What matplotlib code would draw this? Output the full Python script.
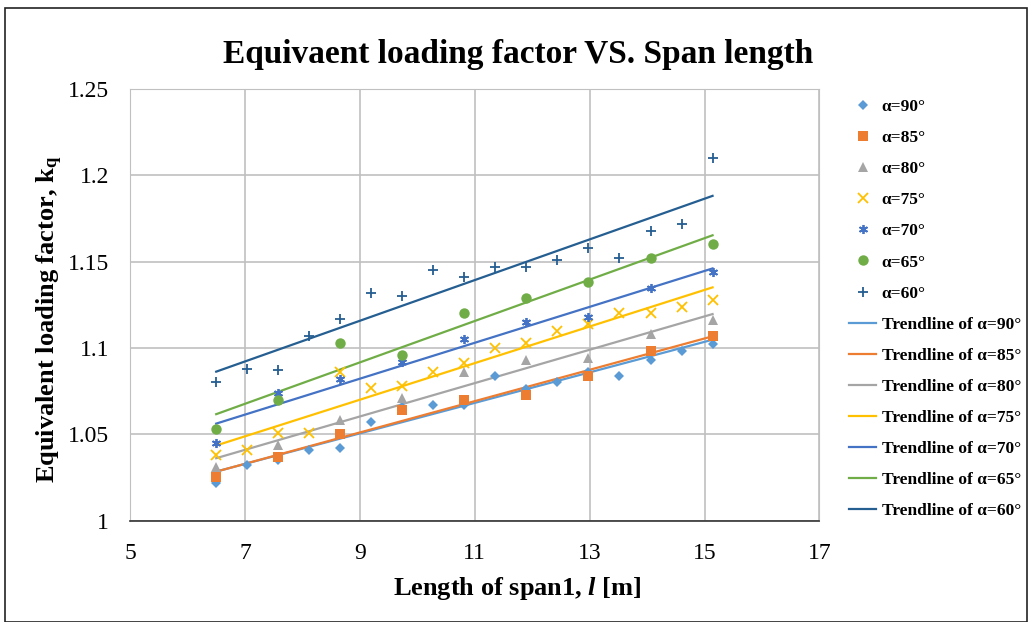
import numpy as np
import matplotlib.pyplot as plt
from matplotlib.patches import Rectangle

plt.rcParams['font.family'] = ['Liberation Serif', 'DejaVu Serif']
plt.rcParams['mathtext.fontset'] = 'custom'
plt.rcParams['mathtext.rm'] = 'Liberation Serif:bold'
plt.rcParams['mathtext.bf'] = 'Liberation Serif:bold'
plt.rcParams['mathtext.it'] = 'Liberation Serif:italic:bold'

# span lengths (m)
x_all = [6.5, 7.04, 7.58, 8.12, 8.66, 9.2, 9.74, 10.28, 10.82, 11.36,
         11.9, 12.44, 12.98, 13.52, 14.06, 14.6, 15.14]
x_half = [6.5, 7.58, 8.66, 9.74, 10.82, 11.9, 12.98, 14.06, 15.14]

k90 = [1.022, 1.032, 1.035, 1.041, 1.042, 1.057, 1.066, 1.067, 1.067, 1.084,
       1.076, 1.080, 1.086, 1.084, 1.093, 1.098, 1.102]
k85 = [1.025, 1.037, 1.050, 1.064, 1.070, 1.073, 1.084, 1.098, 1.107]
k80 = [1.031, 1.044, 1.058, 1.071, 1.086, 1.093, 1.094, 1.108, 1.116]
k75 = [1.038, 1.041, 1.051, 1.051, 1.086, 1.077, 1.078, 1.086, 1.091, 1.100,
       1.103, 1.110, 1.114, 1.120, 1.120, 1.124, 1.128]
k70 = [1.045, 1.074, 1.082, 1.092, 1.105, 1.115, 1.118, 1.135, 1.144]
k65 = [1.053, 1.070, 1.103, 1.096, 1.120, 1.129, 1.138, 1.152, 1.160]
k60 = [1.080, 1.088, 1.087, 1.107, 1.117, 1.132, 1.130, 1.145, 1.141, 1.147,
       1.147, 1.151, 1.158, 1.152, 1.168, 1.172, 1.210]

angles = [90, 85, 80, 75, 70, 65, 60]
series_x = [x_all, x_half, x_half, x_all, x_half, x_half, x_all]
series_k = [k90, k85, k80, k75, k70, k65, k60]
colors = ['#5B9BD5', '#ED7D31', '#A5A5A5', '#FFC000', '#4472C4', '#70AD47', '#255E91']
markers = ['D', 's', '^', 'x', (6, 2, 0), 'o', '+']
msizes = [5.5, 6.5, 6.5, 6.5, 6.5, 7.5, 6.5]

fig = plt.figure(figsize=(10.32, 6.22), dpi=100)
fig.patches.append(Rectangle((0.005, 0.0), 0.99, 0.987, transform=fig.transFigure,
                             fill=False, edgecolor='#222222', linewidth=1.2))
ax = fig.add_axes([0.126, 0.163, 0.668, 0.694])

handles = []
for ang, xs, ks, c, m, ms in zip(angles, series_x, series_k, colors, markers, msizes):
    mew = 1.3 if m in ('x', '+', (6, 2, 0)) else 0
    h, = ax.plot(xs, ks, linestyle='none', marker=m, markersize=ms, color=c,
                 markeredgewidth=mew, label='α=%d°' % ang, zorder=3)
    handles.append(h)

for ang, xs, ks, c in zip(angles, series_x, series_k, colors):
    p = np.polyfit(xs, ks, 1)
    xx = np.array([min(xs), max(xs)])
    h, = ax.plot(xx, np.polyval(p, xx), color=c, linewidth=1.6,
                 label='Trendline of α=%d°' % ang, zorder=2)
    handles.append(h)

ax.set_xlim(5, 17)
ax.set_ylim(1, 1.25)
ax.set_xticks([5, 7, 9, 11, 13, 15, 17])
ax.set_yticks([1, 1.05, 1.1, 1.15, 1.2, 1.25])
ax.set_yticklabels(['1', '1.05', '1.1', '1.15', '1.2', '1.25'])
ax.grid(True, color='#C0C0C0', linewidth=1.2)
ax.set_axisbelow(True)
ax.tick_params(length=0, labelsize=17)
ax.tick_params(axis='x', pad=16)
ax.tick_params(axis='y', pad=15)
for s in ['top', 'left', 'right']:
    ax.spines[s].set_color('#C0C0C0')
ax.spines['bottom'].set_color('#333333')
ax.spines['bottom'].set_linewidth(1.2)

ax.set_xlabel('Length of span1, $\\mathit{l}$ [m]', fontsize=19, fontweight='bold')
ax.set_ylabel('Equivalent loading factor, k$_\\mathbf{q}$', fontsize=19, fontweight='bold')
ax.xaxis.set_label_coords(0.562, -0.125)
ax.yaxis.set_label_coords(-0.094, 0.467)
fig.suptitle('Equivaent loading factor VS. Span length', x=0.502, y=0.937,
             fontsize=24, fontweight='bold')

fig.legend(handles=handles, loc='upper left', bbox_to_anchor=(0.808, 0.866),
           frameon=False, prop={'weight': 'bold', 'size': 12.5},
           labelspacing=0.86, handlelength=1.55, handletextpad=0.3)

fig.savefig('out.png', dpi=100)
